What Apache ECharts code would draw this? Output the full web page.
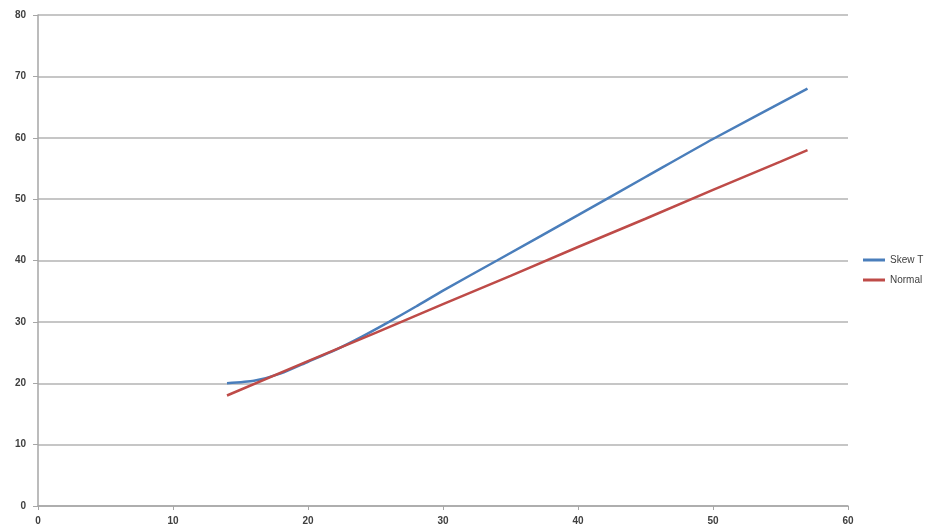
<!DOCTYPE html>
<html>
<head>
<meta charset="utf-8">
<script src="https://cdn.jsdelivr.net/npm/echarts@6/dist/echarts.min.js"></script>
<style>html,body{margin:0;padding:0;background:#fff}#c{width:933px;height:531px}</style>
</head>
<body>
<div id="c"></div>
<script>
var seriesNames = ['Skew T', 'Normal'];
var skewX = [14, 16, 18, 20, 22, 24, 26, 28, 30, 34, 40, 45, 50, 57];
var skewY = [20, 20.4, 21.6, 23.5, 25.4, 27.6, 30, 32.5, 35.1, 40, 47.4, 53.6, 59.8, 68];
var normX = [14, 20, 25, 30, 35, 40, 45, 50, 55, 57];
var normY = [18, 23.6, 28.2, 32.9, 37.5, 42.2, 46.8, 51.5, 56.1, 58];
var xTicks = {min: 0, max: 60, interval: 10};
var yTicks = {min: 0, max: 80, interval: 10};

function pairs(xs, ys) { return xs.map(function (x, i) { return [x, ys[i]]; }); }

var chart = echarts.init(document.getElementById('c'));
var lbl = {color: '#404040', fontSize: 10, fontFamily: 'Liberation Sans', fontWeight: 'bold'};
chart.setOption({
  animation: false,
  backgroundColor: '#fff',
  grid: {left: 38, right: 85, top: 15, bottom: 25, containLabel: false},
  legend: {
    orient: 'vertical', right: 0, left: 858, top: 250, itemGap: 10,
    itemWidth: 22, itemHeight: 3, icon: 'rect',
    textStyle: {color: '#404040', fontSize: 10, fontFamily: 'Liberation Sans'},
    data: seriesNames
  },
  xAxis: {
    type: 'value', min: xTicks.min, max: xTicks.max, interval: xTicks.interval,
    axisLine: {show: true, lineStyle: {color: '#a6a6a6', width: 1.5}},
    axisTick: {show: true, length: 4, inside: false, lineStyle: {color: '#a6a6a6'}},
    axisLabel: Object.assign({margin: 10}, lbl),
    splitLine: {show: false}
  },
  yAxis: {
    type: 'value', min: yTicks.min, max: yTicks.max, interval: yTicks.interval,
    axisLine: {show: true, lineStyle: {color: '#a6a6a6', width: 1.5}},
    axisTick: {show: true, length: 5, lineStyle: {color: '#a6a6a6'}},
    axisLabel: Object.assign({margin: 12}, lbl),
    splitLine: {show: true, lineStyle: {color: '#b3b3b3', width: 1.5}}
  },
  series: [
    {name: seriesNames[0], type: 'line', data: pairs(skewX, skewY), showSymbol: false, smooth: 0.2,
     lineStyle: {color: '#4A7EBB', width: 2.5}, itemStyle: {color: '#4A7EBB'}},
    {name: seriesNames[1], type: 'line', data: pairs(normX, normY), showSymbol: false,
     lineStyle: {color: '#BE4B48', width: 2.5}, itemStyle: {color: '#BE4B48'}}
  ]
});
</script>
</body>
</html>
